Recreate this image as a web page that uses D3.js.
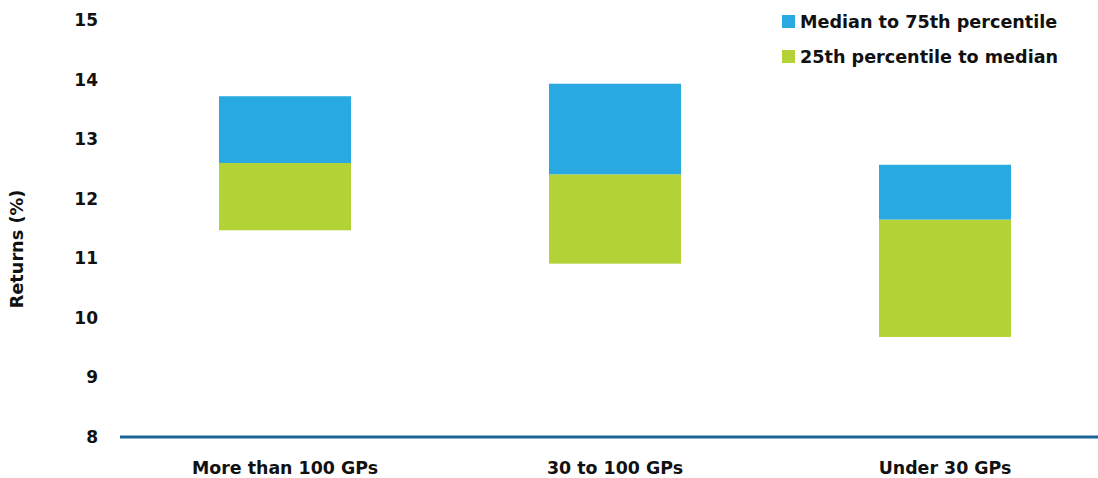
<!DOCTYPE html>
<html>
<head>
<meta charset="utf-8">
<script src="https://cdn.jsdelivr.net/npm/d3@7"></script>
<style>
  body { margin: 0; background: #fff; }
  text { font-family: "DejaVu Sans", sans-serif; font-weight: 700; fill: #111; }
</style>
</head>
<body>
<svg id="chart" width="1098" height="478"></svg>
<script>
const categories = ["More than 100 GPs", "30 to 100 GPs", "Under 30 GPs"];
const p25 = [11.47, 10.91, 9.68];
const median = [12.60, 12.41, 11.65];
const p75 = [13.72, 13.93, 12.57];
const yTicks = [8, 9, 10, 11, 12, 13, 14, 15];
const seriesNames = ["Median to 75th percentile", "25th percentile to median"];
const seriesColors = ["#29a9e1", "#b3d236"];
const font = "'DejaVu Sans', sans-serif";

const svg = d3.select("#chart");

const x = d3.scaleBand()
    .domain(categories)
    .range([120, 1110])
    .paddingInner(0.6)
    .paddingOuter(0.3);

const y = d3.scaleLinear()
    .domain([8, 15])
    .range([437, 20]);

const rows = categories.map((c, i) => ({ cat: c, lo: p25[i], mid: median[i], hi: p75[i] }));

// lower box: 25th to median
svg.append("g").selectAll("rect")
    .data(rows)
    .join("rect")
    .attr("x", d => x(d.cat))
    .attr("width", x.bandwidth())
    .attr("y", d => y(d.mid))
    .attr("height", d => y(d.lo) - y(d.mid))
    .attr("fill", seriesColors[1]);

// upper box: median to 75th
svg.append("g").selectAll("rect")
    .data(rows)
    .join("rect")
    .attr("x", d => x(d.cat))
    .attr("width", x.bandwidth())
    .attr("y", d => y(d.hi))
    .attr("height", d => y(d.mid) - y(d.hi))
    .attr("fill", seriesColors[0]);

// y axis labels
const yAxis = svg.append("g")
    .attr("transform", "translate(98,0)")
    .call(d3.axisLeft(y).tickValues(yTicks).tickFormat(d3.format("d")).tickSize(0).tickPadding(0));
yAxis.select(".domain").remove();
yAxis.selectAll("text")
    .attr("font-size", "17px")
    .attr("font-family", font)
    .attr("font-weight", 700)
    .attr("fill", "#111");

// baseline
svg.append("line")
    .attr("x1", 120).attr("x2", 1098)
    .attr("y1", y(8)).attr("y2", y(8))
    .attr("stroke", "#1c6495")
    .attr("stroke-width", 3);

// x axis labels
const xAxis = svg.append("g")
    .attr("transform", "translate(0,462)")
    .call(d3.axisBottom(x).tickSize(0).tickPadding(0));
xAxis.select(".domain").remove();
xAxis.selectAll("text")
    .attr("font-size", "17.4px")
    .attr("font-family", font)
    .attr("font-weight", 700)
    .attr("fill", "#111");

// y title
svg.append("text")
    .attr("transform", "translate(23,249) rotate(-90)")
    .attr("text-anchor", "middle")
    .attr("font-size", "17.7px")
    .text("Returns (%)");

// legend
const legend = svg.append("g").attr("transform", "translate(782,15)");
seriesNames.forEach((name, i) => {
    const g = legend.append("g").attr("transform", `translate(0,${i * 35})`);
    g.append("rect")
        .attr("width", 13)
        .attr("height", 13)
        .attr("fill", seriesColors[i]);
    g.append("text")
        .attr("x", 18)
        .attr("y", 13)
        .attr("font-size", "17.6px")
        .text(name);
});
</script>
</body>
</html>
